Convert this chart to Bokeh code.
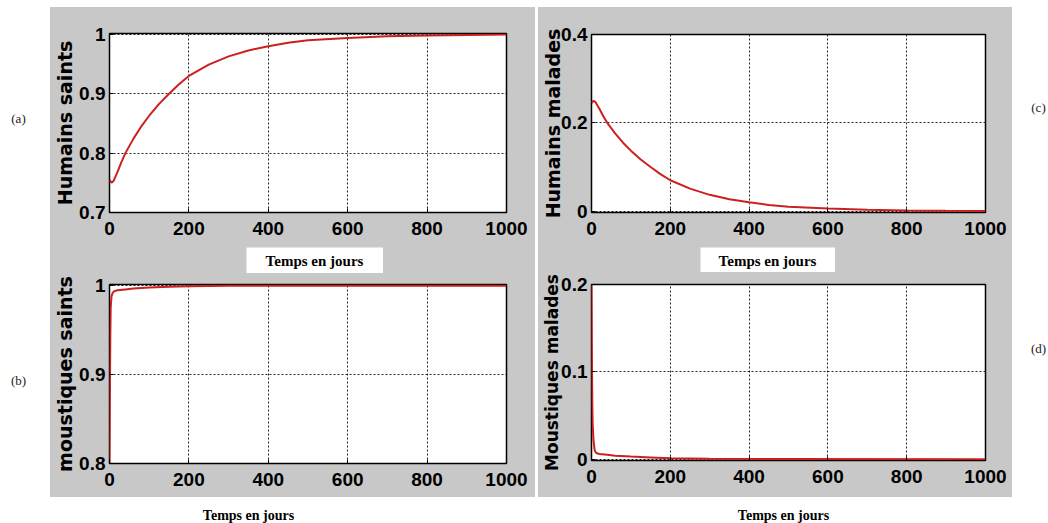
from bokeh.plotting import figure
from bokeh.models import Range1d, FixedTicker, Label, Spacer
from bokeh.layouts import row, column
from bokeh.embed import file_html
from bokeh.resources import INLINE

# ---------------- data ----------------
t_humains = [0, 5, 10, 20, 30, 40, 60, 80, 100, 125, 150, 175, 200, 250, 300,
             350, 400, 450, 500, 600, 700, 800, 900, 1000]
humains_saints = [0.755, 0.75, 0.753, 0.768, 0.785, 0.8, 0.824, 0.845, 0.863,
                  0.883, 0.9, 0.916, 0.93, 0.949, 0.963, 0.973, 0.98, 0.986,
                  0.99, 0.994, 0.997, 0.998, 0.999, 1.0]
humains_malades = [0.245, 0.25, 0.247, 0.232, 0.215, 0.2, 0.176, 0.155, 0.137,
                   0.117, 0.1, 0.084, 0.07, 0.051, 0.037, 0.027, 0.02, 0.014,
                   0.01, 0.006, 0.003, 0.0015, 0.0007, 0.0003]

t_moustiques = [0, 1, 2, 3, 5, 8, 12, 20, 40, 60, 100, 150, 200, 300, 500, 1000]
moustiques_saints = [0.8, 0.88, 0.94, 0.975, 0.988, 0.992, 0.994, 0.995, 0.996,
                     0.997, 0.998, 0.999, 0.9995, 1.0, 1.0, 1.0]
moustiques_malades = [0.2, 0.12, 0.065, 0.04, 0.022, 0.01, 0.007, 0.006, 0.005,
                      0.004, 0.003, 0.002, 0.001, 0.0005, 0.0002, 0.0]

x_ticks = [0, 200, 400, 600, 800, 1000]
x_tick_labels = ["0", "200", "400", "600", "800", "1000"]

a_yticks = [0.7, 0.8, 0.9, 1.0]
a_ylabels = ["0.7", "0.8", "0.9", "1"]
b_yticks = [0.8, 0.9, 1.0]
b_ylabels = ["0.8", "0.9", "1"]
c_yticks = [0.0, 0.2, 0.4]
c_ylabels = ["0", "0.2", "0.4"]
d_yticks = [0.0, 0.1, 0.2]
d_ylabels = ["0", "0.1", "0.2"]

xlabel_text = "Temps en jours"
panel_tags = ["(a)", "(b)", "(c)", "(d)"]

# ---------------- style ----------------
GRAY = "#c8c8c8"
RED = "#cc1f1f"
TICK_FONT = "Liberation Sans"
YLAB_FONT = "DejaVu Sans"
SERIF = "Liberation Serif"


def make_panel(width, height, borders, xs, ys, yr, yticks, ylabels, ylabel,
               ylab_size="19px", ylab_standoff=1):
    left, right, top, bottom = borders
    p = figure(width=width, height=height, output_backend="svg", toolbar_location=None,
               x_range=Range1d(0, 1000), y_range=Range1d(*yr),
               min_border_left=left, min_border_right=right,
               min_border_top=top, min_border_bottom=bottom,
               background_fill_color="white", border_fill_color=GRAY)
    p.outline_line_color = "black"
    p.outline_line_width = 1.5
    p.outline_line_alpha = 1.0

    xa = p.xaxis[0]
    ya = p.yaxis[0]
    for ax, ticks, labels in ((xa, x_ticks, x_tick_labels), (ya, yticks, ylabels)):
        ax.ticker = FixedTicker(ticks=ticks)
        ax.major_label_overrides = {tk: lb for tk, lb in zip(ticks, labels)}
        ax.axis_line_color = None
        ax.major_tick_in = 4
        ax.major_tick_out = 0
        ax.major_tick_line_color = "black"
        ax.minor_tick_line_color = None
        ax.major_label_text_font = TICK_FONT
        ax.major_label_text_font_size = "19px"
        ax.major_label_text_font_style = "bold"
        ax.major_label_text_color = "black"
    xa.major_label_standoff = 9
    ya.major_label_standoff = 4
    ya.axis_label = ylabel
    ya.axis_label_text_font = YLAB_FONT
    ya.axis_label_text_font_style = "bold"
    ya.axis_label_text_font_size = ylab_size
    ya.axis_label_standoff = ylab_standoff
    ya.axis_label_text_color = "black"

    p.xgrid[0].ticker = FixedTicker(ticks=x_ticks)
    p.ygrid[0].ticker = FixedTicker(ticks=yticks)
    for g in (p.xgrid[0], p.ygrid[0]):
        g.grid_line_color = "black"
        g.grid_line_dash = "2 2"
        g.grid_line_width = 1
        g.grid_line_alpha = 0.85

    p.line(xs, ys, line_color=RED, line_width=2)
    return p


def text_strip(width, height, items, font, size, style, color, bg="white"):
    p = figure(width=width, height=height, output_backend="svg", toolbar_location=None,
               x_axis_type=None, y_axis_type=None, min_border=0,
               x_range=Range1d(0, 1), y_range=Range1d(0, 1),
               background_fill_color=bg, border_fill_color=bg)
    p.outline_line_color = None
    for txt, sx, sy in items:
        p.add_layout(Label(x=sx, y=sy, x_units="screen", y_units="screen", text=txt,
                           text_align="center", text_baseline="middle", text_font=font,
                           text_font_size=size, text_font_style=style, text_color=color))
    return p


# panels
fa = make_panel(485, 240, (59, 29, 26, 35), t_humains, humains_saints, (0.7, 1.0015),
                a_yticks, a_ylabels, "Humains saints", ylab_standoff=0)
fb = make_panel(485, 224, (59, 29, 11, 34), t_moustiques, moustiques_saints, (0.8, 1.0015),
                b_yticks, b_ylabels, "moustiques saints", ylab_standoff=0)
fc = make_panel(474, 240, (53, 27, 27, 35), t_humains, humains_malades, (-0.003, 0.4),
                c_yticks, c_ylabels, "Humains malades", ylab_standoff=-6)
fd = make_panel(474, 225, (53, 27, 12, 37), t_moustiques, moustiques_malades, (-0.0015, 0.2),
                d_yticks, d_ylabels, "Moustiques malades", ylab_size="17px", ylab_standoff=-4)

# strips holding the white "Temps en jours" boxes between the panels
strip_l = row(text_strip(196, 26, [], SERIF, "15px", "bold", "black", bg=GRAY),
              text_strip(137, 26, [(xlabel_text, 68, 13)], SERIF, "15px", "bold", "black"),
              text_strip(152, 26, [], SERIF, "15px", "bold", "black", bg=GRAY))
strip_r = row(text_strip(162, 25, [], SERIF, "15px", "bold", "black", bg=GRAY),
              text_strip(135, 25, [(xlabel_text, 67, 12)], SERIF, "15px", "bold", "black"),
              text_strip(177, 25, [], SERIF, "15px", "bold", "black", bg=GRAY))

marg_l = text_strip(50, 523, [(panel_tags[0], 18, 405), (panel_tags[1], 18, 143)],
                    SERIF, "13px", "normal", "#222222")
marg_r = text_strip(36, 523, [(panel_tags[2], 26, 416), (panel_tags[3], 26, 175)],
                    SERIF, "13px", "normal", "#222222")
bot_l = text_strip(485, 26, [(xlabel_text, 198, 8)], SERIF, "14px", "bold", "black")
bot_r = text_strip(474, 26, [(xlabel_text, 245, 8)], SERIF, "14px", "bold", "black")

gray_bg = {"background-color": GRAY}
inner_l = column(fa, strip_l, fb, styles=gray_bg)
inner_r = column(fc, strip_r, fd, styles=gray_bg)
left_col = column(Spacer(width=485, height=7), inner_l, bot_l)
right_col = column(Spacer(width=474, height=7), inner_r, bot_r)
layout = row(marg_l, left_col, Spacer(width=3, height=523), right_col, marg_r)

open("out.html", "w").write(file_html(layout, INLINE))
